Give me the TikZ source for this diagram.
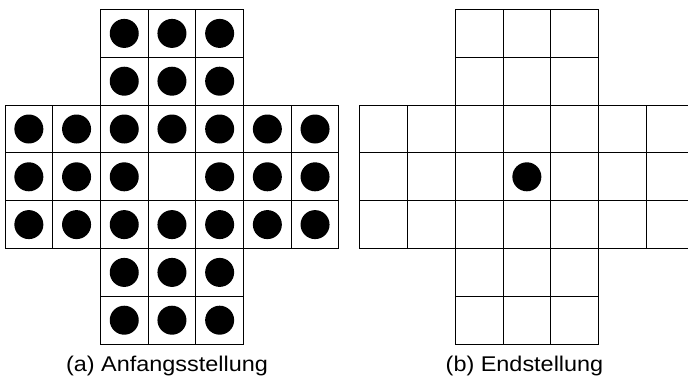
\documentclass[tikz,border=0pt]{standalone}
\usepackage{fontspec}
\setmainfont{Liberation Sans}[FakeStretch=1.10]
\begin{document}
\begin{tikzpicture}[x=1pt,y=-1pt,
  cell/.style={draw=black,line width=1pt},
  peg/.style={fill=black},
  caption/.style={anchor=base,inner sep=0pt,font=\fontsize{21.3}{24}\selectfont}]
\useasboundingbox (0,0) rectangle (688,376);
\clip (0,0) rectangle (688,376);
\def\cs{47.7}
\def\ch{47.8}
% left board
\begin{scope}[shift={(5,9.5)}]
  \foreach \r in {0,...,6}{
    \foreach \c in {0,...,6}{
      \pgfmathtruncatemacro{\inrow}{(\r>=2 && \r<=4) ? 1 : 0}
      \pgfmathtruncatemacro{\incol}{(\c>=2 && \c<=4) ? 1 : 0}
      \pgfmathtruncatemacro{\ok}{(\inrow==1 || \incol==1) ? 1 : 0}
      \ifnum\ok=1
        \draw[cell] ({\c*\cs},{\r*\ch}) rectangle ({(\c+1)*\cs},{(\r+1)*\ch});
        \pgfmathtruncatemacro{\ctr}{(\r==3 && \c==3) ? 1 : 0}
        \ifnum\ctr=0
          \fill[peg] ({(\c+0.5)*\cs},{(\r+0.5)*\ch}) circle (14.5);
        \fi
      \fi
    }
  }
\end{scope}
% right board
\begin{scope}[shift={(359.9,9.5)}]
  \foreach \r in {0,...,6}{
    \foreach \c in {0,...,6}{
      \pgfmathtruncatemacro{\inrow}{(\r>=2 && \r<=4) ? 1 : 0}
      \pgfmathtruncatemacro{\incol}{(\c>=2 && \c<=4) ? 1 : 0}
      \pgfmathtruncatemacro{\ok}{(\inrow==1 || \incol==1) ? 1 : 0}
      \ifnum\ok=1
        \draw[cell] ({\c*\cs},{\r*\ch}) rectangle ({(\c+1)*\cs},{(\r+1)*\ch});
      \fi
    }
  }
  \fill[peg] ({3.5*\cs},{3.5*\ch}) circle (14.5);
\end{scope}
\node[caption] (capa) at (167,371.7) {(a) Anfangsstellung};
\node[caption] (capb) at (524.5,371.7) {(b) Endstellung};
\end{tikzpicture}
\end{document}
